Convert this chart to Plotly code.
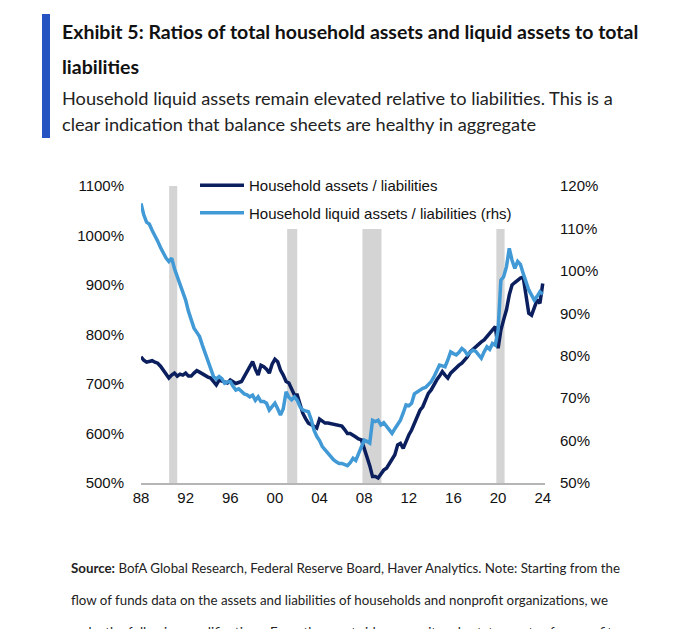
import pandas as pd
import plotly.graph_objects as go

# ---------------- data (quarterly, 1988Q1 - 2024Q1) ----------------
quarters = pd.period_range("1988Q1", "2024Q1", freq="Q").to_timestamp()

assets_to_liab = [
    755, 748, 744, 746,   # 1988
    747, 744, 742, 736,   # 1989
    728, 720, 712, 718,   # 1990
    722, 716, 720, 718,   # 1991
    722, 716, 716, 722,   # 1992
    727, 724, 720, 718,   # 1993
    714, 712, 705, 698,   # 1994
    708, 706, 705, 702,   # 1995
    708, 704, 701, 703,   # 1996
    705, 715, 725, 732,   # 1997
    745, 730, 718, 738,   # 1998
    735, 730, 722, 740,   # 1999
    750, 745, 728, 718,   # 2000
    705, 702, 690, 678,   # 2001
    678, 660, 641, 630,   # 2002
    621, 618, 614, 611,   # 2003
    629, 624, 621, 621,   # 2004
    620, 619, 618, 617,   # 2005
    615, 608, 600, 600,   # 2006
    597, 593, 589, 587,   # 2007
    570, 553, 535, 513,   # 2008
    513, 510, 518, 526,   # 2009
    530, 540, 548, 557,   # 2010
    577, 580, 570, 585,   # 2011
    597, 607, 621, 635,   # 2012
    647, 654, 670, 681,   # 2013
    688, 700, 708, 716,   # 2014
    725, 718, 712, 722,   # 2015
    728, 732, 738, 742,   # 2016
    748, 755, 765, 770,   # 2017
    775, 782, 785, 789,   # 2018
    796, 803, 809, 816,   # 2019
    772, 809, 830, 850,   # 2020
    880, 900, 905, 910,   # 2021
    914, 916, 880, 843,   # 2022
    839, 855, 870, 863,   # 2023
    903,                  # 2024
]

liquid_to_liab = [
    115.9, 113.2, 111.5, 111.0,   # 1988
    109.5, 108.0, 107.0, 105.5,   # 1989
    104.0, 103.0, 102.2, 103.0,   # 1990
    100.5, 98.6, 96.5, 95.0,      # 1991
    93.1, 90.5, 88.4, 86.5,       # 1992
    85.5, 84.5, 82.5, 80.5,       # 1993
    79.0, 77.0, 75.1, 74.5,       # 1994
    75.1, 74.6, 73.5, 73.8,       # 1995
    73.9, 72.8, 71.9, 72.2,       # 1996
    71.5, 71.0, 70.8, 70.3,       # 1997
    70.7, 69.5, 70.3, 69.2,       # 1998
    69.2, 68.8, 67.2, 68.0,       # 1999
    68.8, 67.5, 66.0, 67.5,       # 2000
    71.5, 70.2, 69.6, 70.3,       # 2001
    69.5, 68.0, 67.2, 67.0,       # 2002
    66.8, 65.0, 62.5, 61.0,       # 2003
    60.0, 58.6, 57.8, 57.0,       # 2004
    56.2, 55.5, 55.0, 54.6,       # 2005
    54.6, 54.3, 54.1, 54.8,       # 2006
    55.8, 55.3, 57.0, 58.5,       # 2007
    60.1, 59.8, 59.4, 64.8,       # 2008
    64.5, 64.8, 63.7, 64.2,       # 2009
    63.3, 62.5, 61.7, 62.8,       # 2010
    64.0, 64.8, 66.5, 68.4,       # 2011
    68.2, 68.8, 71.0, 71.5,       # 2012
    71.8, 72.3, 72.5, 73.2,       # 2013
    73.9, 75.0, 76.5, 77.8,       # 2014
    77.6, 77.4, 79.0, 80.9,       # 2015
    80.5, 80.2, 80.8, 81.7,       # 2016
    81.2, 80.2, 80.8, 81.3,       # 2017
    81.0, 80.2, 79.4, 80.9,       # 2018
    82.1, 81.5, 82.9, 82.5,       # 2019
    86.1, 97.8, 98.6, 101.0,      # 2020
    105.3, 102.5, 100.6, 102.2,   # 2021
    101.5, 99.4, 97.5, 95.5,      # 2022
    94.3, 93.1, 94.0, 95.1,       # 2023
    94.5,                         # 2024
]

recession_start = ["1990-07-10", "2001-02-05", "2007-11-05", "2019-11-05"]
recession_end = ["1991-04-01", "2002-01-01", "2009-07-20", "2020-08-01"]

x_ticks = [f"{y}-01-01" for y in range(1988, 2025, 4)]
x_tick_labels = [f"{y % 100:02d}" for y in range(1988, 2025, 4)]

name_assets = "Household assets / liabilities"
name_liquid = "Household liquid assets / liabilities (rhs)"

title_lines = ["<b>Exhibit 5: Ratios of total household assets and liquid assets to total</b>",
               "<b>liabilities</b>"]
subtitle_lines = ["Household liquid assets remain elevated relative to liabilities. This is a",
                  "clear indication that balance sheets are healthy in aggregate"]
source_lines = [
    "<b>Source:</b> BofA Global Research, Federal Reserve Board, Haver Analytics. Note: Starting from the",
    "flow of funds data on the assets and liabilities of households and nonprofit organizations, we",
    "make the following modifications. From the asset side, we omit real estate assets of nonprofits",
]

# ---------------- layout geometry ----------------
# page body has an 8px default margin; work in window pixels and shift
OFF = 8
W, H = 680 - 2 * OFF, 637 - 2 * OFF
ML = 141 - OFF
MT = 186 - OFF
MR = W - (545 - OFF)
MB = H - (483 - OFF)
PW, PH = W - ML - MR, H - MT - MB


def px(x):
    return (x - OFF - ML) / PW


def py(y):
    return (H - MB - (y - OFF)) / PH


DARK = "#0b1f5e"
LIGHT = "#4199d6"
GREY = "#d4d4d4"
TXT = "Lato, Roboto, sans-serif"
ARIAL = "Liberation Sans, Arial, sans-serif"

fig = go.Figure()
fig.add_trace(go.Scatter(x=quarters, y=assets_to_liab, name=name_assets, mode="lines",
                         line=dict(color=DARK, width=3.5), legendgroup="a"))
fig.add_trace(go.Scatter(x=quarters, y=liquid_to_liab, name=name_liquid, mode="lines",
                         line=dict(color=LIGHT, width=3.5), yaxis="y2", legendgroup="b"))

shapes = []
for s, e in zip(recession_start, recession_end):
    shapes.append(dict(type="rect", xref="x", yref="paper", x0=s, x1=e, y0=0, y1=1,
                       fillcolor=GREY, line=dict(width=0), layer="below"))
# blue accent bar next to title
shapes.append(dict(type="rect", xref="paper", yref="paper", x0=px(42), x1=px(50),
                   y0=py(138), y1=py(14), fillcolor="#2553c2", line=dict(width=0)))

annotations = []
for i, t in enumerate(title_lines):
    annotations.append(dict(text=t, xref="paper", yref="paper", x=px(60), y=py(32 + 34 * i),
                            xanchor="left", yanchor="middle", showarrow=False,
                            font=dict(family=TXT, size=19.5, color="#111")))
for i, t in enumerate(subtitle_lines):
    annotations.append(dict(text=t, xref="paper", yref="paper", x=px(60), y=py(98 + 26 * i),
                            xanchor="left", yanchor="middle", showarrow=False,
                            font=dict(family=TXT, size=18.2, color="#222")))
for i, t in enumerate(source_lines):
    annotations.append(dict(text=t, xref="paper", yref="paper", x=px(69), y=py(568 + 32 * i),
                            xanchor="left", yanchor="middle", showarrow=False,
                            font=dict(family=TXT, size=13.3, color="#222")))

fig.update_layout(
    width=W, height=H,
    margin=dict(l=ML, r=MR, t=MT, b=MB),
    paper_bgcolor="white", plot_bgcolor="white",
    shapes=shapes, annotations=annotations,
    showlegend=True,
    legend=dict(x=px(195), y=py(169), xanchor="left", yanchor="top",
                bgcolor="white", borderwidth=0, traceorder="grouped", tracegroupgap=5,
                font=dict(family=ARIAL, size=15, color="#111"), itemwidth=44),
    xaxis=dict(type="date", range=["1988-01-01", "2024-03-15"], tickvals=x_ticks,
               ticktext=x_tick_labels, showgrid=False, zeroline=False,
               showline=True, linecolor="#b5b5b5", linewidth=1.5, ticks="",
               tickfont=dict(family=ARIAL, size=15, color="#111")),
    yaxis=dict(range=[500, 1100], tickmode="linear", tick0=500, dtick=100, ticksuffix="%",
               showgrid=False, zeroline=False, showline=False, ticks="", ticklabelstandoff=16,
               tickfont=dict(family=ARIAL, size=15, color="#111")),
    yaxis2=dict(range=[50, 120], tickmode="linear", tick0=50, dtick=10, ticksuffix="%",
                overlaying="y", side="right", showgrid=False, zeroline=False, showline=False,
                ticks="", ticklabelstandoff=14, tickfont=dict(family=ARIAL, size=15, color="#111")),
)

fig.write_html("out.html")
